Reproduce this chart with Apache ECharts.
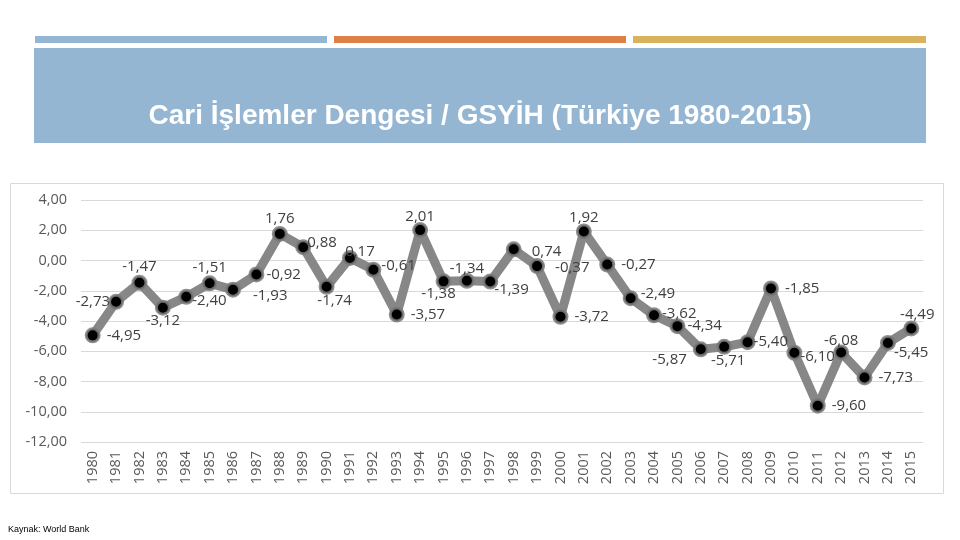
<!DOCTYPE html>
<html><head><meta charset="utf-8">
<script src="https://cdn.jsdelivr.net/npm/echarts@6/dist/echarts.min.js"></script>
<style>html,body{margin:0;padding:0;background:#fff}#c{width:960px;height:540px}</style>
</head><body><div id="c"></div>
<script>
const years = ['1980','1981','1982','1983','1984','1985','1986','1987','1988','1989','1990','1991','1992','1993','1994','1995','1996','1997','1998','1999','2000','2001','2002','2003','2004','2005','2006','2007','2008','2009','2010','2011','2012','2013','2014','2015'];
const balance = [-4.95,-2.73,-1.47,-3.12,-2.40,-1.51,-1.93,-0.92,1.76,0.88,-1.74,0.17,-0.61,-3.57,2.01,-1.38,-1.34,-1.39,0.74,-0.37,-3.72,1.92,-0.27,-2.49,-3.62,-4.34,-5.87,-5.71,-5.40,-1.85,-6.10,-9.60,-6.08,-7.73,-5.45,-4.49];
const yTicks = {min:-12, max:4, interval:2};
const titleText = 'Cari İşlemler Dengesi / GSYİH (Türkiye 1980-2015)';
const sourceText = 'Kaynak: World Bank';

const fmt = v => v.toFixed(2).replace('.', ',');
// label placement per point (style)
const pos = ['right','left','top','bottom','right','top','right','right','top','right','bottom','top','right','right','top','bottom','top','right','right','right','right','top','right','right','right','right','left','bottom','right','right','right','right','top','right','right','top'];
const offs = {1:[8,0],2:[0,6],3:[0,-8],4:[-8,4],5:[0,6],6:[6,6],7:[-4,0],8:[0,6],9:[-10,-4],10:[8,-8],11:[10,15],12:[-6,-4],14:[0,8],15:[-5,-9],16:[0,9],17:[-10,8],18:[4,2],19:[4,2],21:[0,8],23:[-4,-4],24:[-6,-2],25:[-4,0],26:[0,10],27:[4,-8],28:[-8,0],30:[-8,4],32:[0,10],34:[-8,10],35:[6,8]};
const data = balance.map((v,i)=>({value:v,label:{position:pos[i],offset:offs[i]||[0,0]}}));

const chart = echarts.init(document.getElementById('c'));
chart.setOption({
  animation:false,
  graphic:[
    {type:'rect',shape:{x:35,y:36,width:292,height:7},style:{fill:'#94B6D2'}},
    {type:'rect',shape:{x:334,y:36,width:292,height:7},style:{fill:'#DD8047'}},
    {type:'rect',shape:{x:633,y:36,width:293,height:7},style:{fill:'#D8B25C'}},
    {type:'rect',shape:{x:34,y:48,width:892,height:95},style:{fill:'#94B6D2'}},
    {type:'text',x:480,y:116,style:{text:titleText,fill:'#fff',font:'bold 28px "Liberation Sans", Arial, sans-serif',align:'center',verticalAlign:'middle'}},
    {type:'rect',shape:{x:10.5,y:183.5,width:933,height:310},style:{fill:'none',stroke:'#d9d9d9',lineWidth:1}},
    {type:'text',x:8,y:530,style:{text:sourceText,fill:'#000',font:'9px "Liberation Sans", Arial, sans-serif',verticalAlign:'middle'}}
  ],
  grid:{left:81,right:37,top:200,bottom:98,containLabel:false},
  xAxis:{type:'category',data:years,boundaryGap:true,
    axisLine:{show:false},axisTick:{show:false},
    axisLabel:{rotate:90,color:'#595959',fontSize:14.5,fontFamily:'"Open Sans", "DejaVu Sans", sans-serif',margin:9,interval:0}},
  yAxis:{type:'value',min:yTicks.min,max:yTicks.max,interval:yTicks.interval,
    axisLine:{show:false},axisTick:{show:false},
    splitLine:{lineStyle:{color:'#d9d9d9',width:1}},
    axisLabel:{formatter:v=>fmt(v),color:'#595959',fontSize:14.5,fontFamily:'"Open Sans", "DejaVu Sans", sans-serif',margin:14}},
  series:[{type:'line',data:data,
    lineStyle:{color:'#878787',width:9},
    symbol:'circle',symbolSize:13,
    itemStyle:{color:'#000',borderColor:'rgba(125,125,125,0.85)',borderWidth:3},
    label:{show:true,formatter:p=>fmt(p.value),color:'#404040',fontSize:15,fontFamily:'"Open Sans", "DejaVu Sans", sans-serif',distance:6},
    z:3}]
});
</script></body></html>
